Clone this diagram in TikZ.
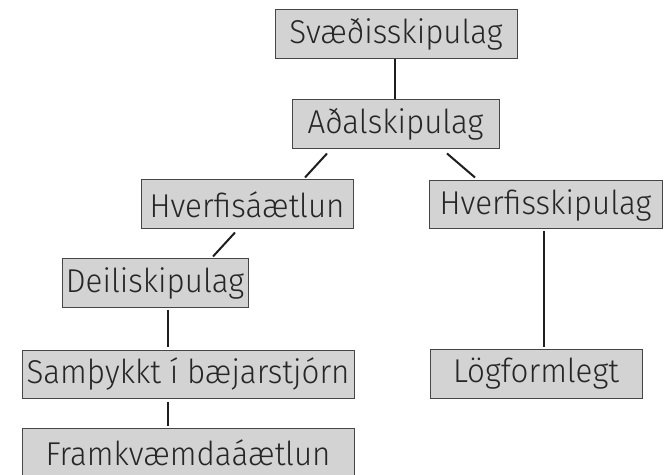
\documentclass[tikz,border=0pt]{standalone}
\usepackage{fontspec}
\setmainfont{Fira Sans Light}[FakeStretch=0.95]
\definecolor{boxfill}{RGB}{211,211,211}
\definecolor{boxline}{RGB}{70,70,70}
\definecolor{linecol}{RGB}{30,30,30}
\tikzset{
  box/.style={draw=boxline, line width=1pt, fill=boxfill, inner sep=0pt,
    font=\fontsize{33}{36}\selectfont, text=black!85},
  conn/.style={draw=linecol, line width=2pt}
}
\begin{document}
\begin{tikzpicture}[x=1pt,y=1pt]
\useasboundingbox (0,0) rectangle (668,474);
% centers: x = (l+r)/2, y = 474 - (t+b)/2
\node[box, minimum width=242pt, minimum height=49pt] (svaedi) at (396,439.5) {Svæðisskipulag};
\node[box, minimum width=207pt, minimum height=49pt] (adal) at (395.5,349.5) {Aðalskipulag};
\node[box, minimum width=212pt, minimum height=49pt] (hverfa) at (247,269.5) {Hverfisáætlun};
\node[box, minimum width=233pt, minimum height=48pt] (hverfs) at (545.5,269) {Hverfisskipulag};
\node[box, minimum width=186pt, minimum height=48pt] (deili) at (155,191) {Deiliskipulag};
\node[box, minimum width=332pt, minimum height=48pt] (samb) at (188,100) {Samþykkt í bæjarstjórn};
\node[box, minimum width=332pt, minimum height=49pt] (framk) at (188,21.5) {Framkvæmdaáætlun};
\node[box, minimum width=212pt, minimum height=49pt] (logf) at (536,100.5) {Lögformlegt\hspace{12pt}};
% connectors
\draw[conn] ([xshift=-1pt]svaedi.south) -- ([xshift=-0.5pt]adal.north);
\draw[conn] ([xshift=-68.5pt,yshift=-4pt]adal.south) -- ([xshift=58pt,yshift=2pt]hverfa.north);
\draw[conn] ([xshift=51.5pt,yshift=-4pt]adal.south) -- ([xshift=-70.5pt,yshift=3pt]hverfs.north);
\draw[conn] ([xshift=-12pt,yshift=-3pt]hverfa.south) -- ([xshift=58pt,yshift=2pt]deili.north);
\draw[conn] ([xshift=13pt,yshift=-2pt]deili.south) -- ([xshift=-20pt,yshift=3pt]samb.north);
\draw[conn] ([xshift=-20pt,yshift=-3pt]samb.south) -- ([xshift=-20pt,yshift=2pt]framk.north);
\draw[conn] ([xshift=-1.5pt,yshift=-2pt]hverfs.south) -- ([xshift=8pt,yshift=2pt]logf.north);
\end{tikzpicture}
\end{document}
